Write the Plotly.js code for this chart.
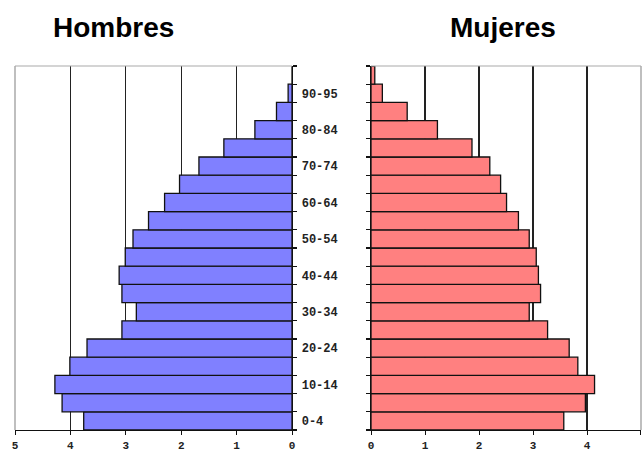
<!DOCTYPE html>
<html>
<head>
<meta charset="utf-8">
<script src="https://cdn.plot.ly/plotly-3.0.1.min.js"></script>
<style>html,body{margin:0;padding:0;background:#fff;}#chart{width:642px;height:450px;}</style>
</head>
<body>
<div id="chart"></div>
<script>
// Age groups, bottom to top
const ageGroups = ["0-4","5-9","10-14","15-19","20-24","25-29","30-34","35-39","40-44","45-49",
                   "50-54","55-59","60-64","65-69","70-74","75-79","80-84","85-89","90-95","95+"];
const labelIdx = [0,2,4,6,8,10,12,14,16,18];
const labelText = ["0-4","10-14","20-24","30-34","40-44","50-54","60-64","70-74","80-84","90-95"];
// Percent of population
const hombres = [3.76,4.15,4.28,4.01,3.70,3.07,2.81,3.07,3.12,3.01,
                 2.87,2.59,2.30,2.03,1.68,1.23,0.67,0.28,0.07,0.0];
const mujeres = [3.57,3.97,4.14,3.83,3.67,3.27,2.93,3.14,3.10,3.06,
                 2.93,2.73,2.51,2.40,2.20,1.87,1.23,0.67,0.21,0.07];
const xTicks = [0,1,2,3,4,5];

const yIdx = ageGroups.map((_, i) => i);

const traces = [
  {type:'bar', orientation:'h', x:hombres, y:yIdx, xaxis:'x', yaxis:'y',
   marker:{color:'#8080ff', line:{color:'#111', width:1.3}}, hoverinfo:'x+y', showlegend:false},
  {type:'bar', orientation:'h', x:mujeres, y:yIdx, xaxis:'x2', yaxis:'y2',
   marker:{color:'#ff8080', line:{color:'#111', width:1.3}}, hoverinfo:'x+y', showlegend:false}
];

const tickFont = {family:'Liberation Mono, DejaVu Sans Mono, monospace', size:12, color:'#222', weight:'bold'};
const xTickFont = {family:'Liberation Mono, DejaVu Sans Mono, monospace', size:11, color:'#222', weight:'bold'};
const yRange = [-0.5, ageGroups.length - 0.5];

const layout = {
  width:642, height:450,
  margin:{l:15, r:1, t:66, b:20, pad:0},
  paper_bgcolor:'#fff', plot_bgcolor:'#fff',
  bargap:0,
  xaxis:{domain:[0,0.4425], range:[5,0], tickvals:xTicks, ticktext:xTicks.map(String),
         showgrid:true, gridcolor:'#222', gridwidth:1.2, zeroline:false,
         showline:true, linecolor:'#111', linewidth:1.3,
         ticks:'outside', ticklen:4, tickcolor:'#111', tickfont:xTickFont, anchor:'y', ticklabelstandoff:0},
  yaxis:{domain:[0,1], range:yRange, anchor:'x', side:'right',
         tickvals:labelIdx, ticktext:labelText, ticks:'', showgrid:false, zeroline:false,
         showline:true, linecolor:'#111', linewidth:1.3, tickfont:tickFont, ticklabelstandoff:6,
         minor:{ticks:'outside', tick0:-0.5, dtick:1, ticklen:4, tickcolor:'#111', tickwidth:1.2, showgrid:false}},
  xaxis2:{domain:[0.5687,1], range:[0,5], tickvals:xTicks, ticktext:xTicks.map(String),
          showgrid:true, gridcolor:'#222', gridwidth:1.2, zeroline:false,
          showline:true, linecolor:'#111', linewidth:1.3,
          ticks:'outside', ticklen:4, tickcolor:'#111', tickfont:xTickFont, anchor:'y2', ticklabelstandoff:0},
  yaxis2:{domain:[0,1], range:yRange, anchor:'x2', side:'left',
          showticklabels:false, ticks:'', showgrid:false, zeroline:false,
          showline:true, linecolor:'#111', linewidth:1.3,
          minor:{ticks:'outside', tick0:-0.5, dtick:1, ticklen:4, tickcolor:'#111', tickwidth:1.2, showgrid:false}},
  shapes:[
    {type:'line', xref:'x domain', yref:'y domain', x0:0, x1:1, y0:1, y1:1, line:{color:'#aaa', width:1.2}, layer:'above'},
    {type:'line', xref:'x domain', yref:'y domain', x0:0, x1:0, y0:0, y1:1, line:{color:'#aaa', width:1.5}, layer:'above'},
    {type:'line', xref:'x2 domain', yref:'y2 domain', x0:0, x1:1, y0:1, y1:1, line:{color:'#aaa', width:1.2}, layer:'above'},
    {type:'line', xref:'x2 domain', yref:'y2 domain', x0:1, x1:1, y0:0, y1:1, line:{color:'#aaa', width:1.5}, layer:'above'}
  ],
  annotations:[
    {text:'Hombres', xref:'paper', yref:'paper', x:0.158, y:1.107, xanchor:'center', yanchor:'middle',
     showarrow:false, font:{family:'Liberation Sans, Arial, sans-serif', size:28, color:'#000', weight:'bold'}},
    {text:'Mujeres', xref:'paper', yref:'paper', x:0.78, y:1.107, xanchor:'center', yanchor:'middle',
     showarrow:false, font:{family:'Liberation Sans, Arial, sans-serif', size:28, color:'#000', weight:'bold'}}
  ]
};

Plotly.newPlot('chart', traces, layout, {displayModeBar:false, staticPlot:true});
</script>
</body>
</html>
